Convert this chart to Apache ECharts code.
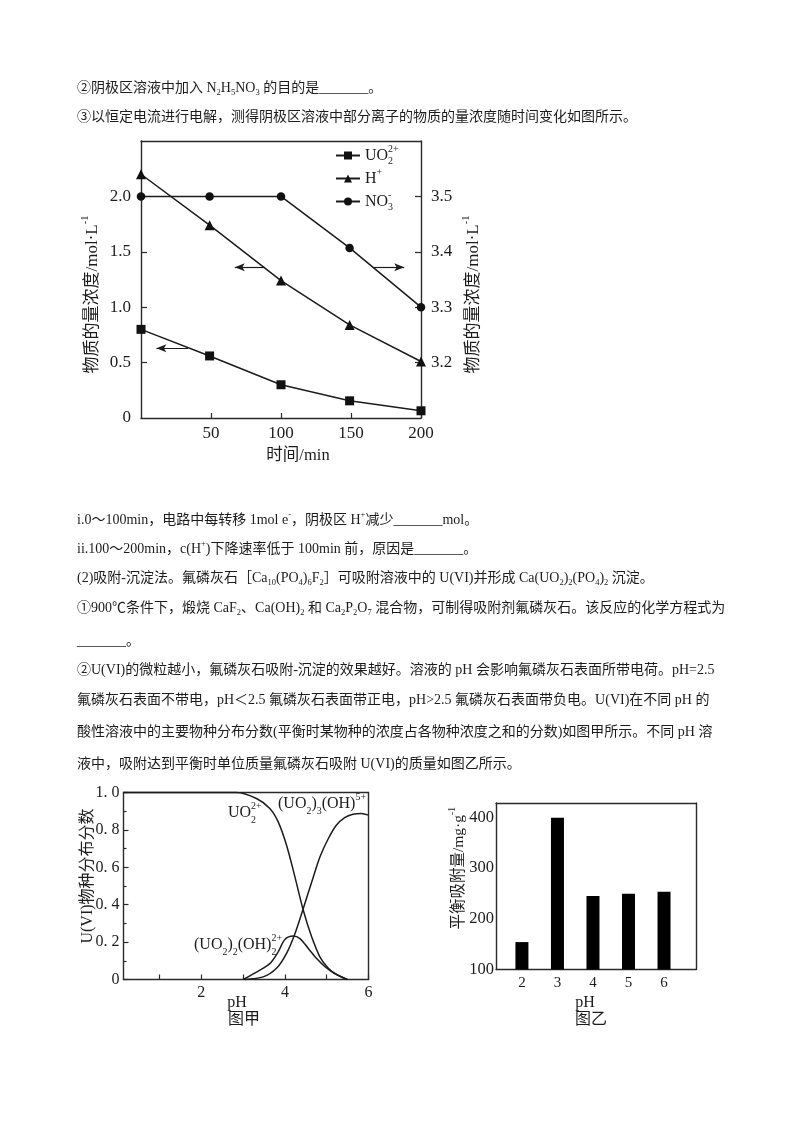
<!DOCTYPE html>
<html><head><meta charset="utf-8">
<style>html,body{margin:0;padding:0;background:#fff}#c{width:800px;height:1132px}</style>
<script src="https://cdn.jsdelivr.net/npm/echarts@6/dist/echarts.min.js"></script></head>
<body><div id="c"></div>
<script>
// ---------- data ----------
const timeMin = [0, 49, 100, 149, 200];
const uo2Conc = [0.80, 0.56, 0.30, 0.155, 0.065];
const hConc = [2.20, 1.74, 1.24, 0.84, 0.51];
const no3Conc = [3.50, 3.50, 3.50, 3.407, 3.30];
const leftTicks = [0, 0.5, 1.0, 1.5, 2.0];
const rightTicks = [3.2, 3.3, 3.4, 3.5];
const timeTicks = [50, 100, 150, 200];

const phUo2 = [0.14, 2.0, 2.84, 3.32, 3.64, 3.84, 4.04, 4.24, 4.44, 4.64, 4.84, 5.04, 5.23, 5.5];
const fracUo2 = [1, 1, 1, 0.968, 0.915, 0.843, 0.718, 0.549, 0.37, 0.228, 0.12, 0.06, 0.027, 0];
const phTrimer = [3.04, 3.48, 3.8, 4.04, 4.24, 4.44, 4.64, 4.84, 5.04, 5.23, 5.43, 5.63, 5.83, 6];
const fracTrimer = [0, 0.014, 0.06, 0.14, 0.245, 0.38, 0.52, 0.656, 0.754, 0.825, 0.866, 0.884, 0.888, 0.879];
const phDimer = [3.0, 3.32, 3.64, 3.84, 4.0, 4.2, 4.36, 4.56, 4.76, 4.96, 5.16, 5.48];
const fracDimer = [0, 0.04, 0.085, 0.148, 0.214, 0.232, 0.219, 0.166, 0.112, 0.068, 0.036, 0];

const barPh = [2, 3, 4, 5, 6];
const barAdsorb = [154, 399, 245, 249, 253];

const bodyLines = [
  ['②阴极区溶液中加入 N{s|2}H{s|5}NO{s|3} 的目的是_______。', 88],
  ['③以恒定电流进行电解，测得阴极区溶液中部分离子的物质的量浓度随时间变化如图所示。', 117],
  ['i.0～100min，电路中每转移 1mol e{u|-}，阴极区 H{u|+}减少_______mol。', 520],
  ['ii.100～200min，c(H{u|+})下降速率低于 100min 前，原因是_______。', 549],
  ['(2)吸附-沉淀法。氟磷灰石［Ca{s|10}(PO{s|4}){s|6}F{s|2}］可吸附溶液中的 U(VI)并形成 Ca(UO{s|2}){s|2}(PO{s|4}){s|2} 沉淀。', 578],
  ['①900℃条件下，煅烧 CaF{s|2}、Ca(OH){s|2} 和 Ca{s|2}P{s|2}O{s|7} 混合物，可制得吸附剂氟磷灰石。该反应的化学方程式为', 608],
  ['_______。', 641],
  ['②U(VI)的微粒越小，氟磷灰石吸附-沉淀的效果越好。溶液的 pH 会影响氟磷灰石表面所带电荷。pH=2.5', 670],
  ['氟磷灰石表面不带电，pH＜2.5 氟磷灰石表面带正电，pH>2.5 氟磷灰石表面带负电。U(VI)在不同 pH 的', 700],
  ['酸性溶液中的主要物种分布分数(平衡时某物种的浓度占各物种浓度之和的分数)如图甲所示。不同 pH 溶', 732],
  ['液中，吸附达到平衡时单位质量氟磷灰石吸附 U(VI)的质量如图乙所示。', 764]
];
const legendRich = {
  'UO2': '{b|UO}{up|2+}{dn|2}',
  'H': '{b|H}{up2|+}',
  'NO3': '{b|NO}{up|-}{dn|3}'
};
// ---------- style ----------
const FONT = '"Liberation Serif","Noto Sans CJK SC",serif';
const INK = '#1c1c1c';
const rich = (size, lh) => {
  const h = lh || size + 8;
  const small = size * 0.62;
  const sm = (v) => ({fontFamily: FONT, fontSize: small, color: INK, verticalAlign: v, lineHeight: small});
  return {
    b: {fontFamily: FONT, fontSize: size, color: INK, lineHeight: h},
    t: {fontFamily: FONT, fontSize: size, color: INK, lineHeight: h},
    up: Object.assign(sm('top'), {width: 0}),
    up2: sm('top'),
    dn: Object.assign(sm('bottom'), {padding: [0, size * 0.95, 0, 0]}),
    d: sm('bottom')
  };
};
const bodyRich = {
  s: {fontFamily: FONT, fontSize: 8.5, color: INK, verticalAlign: 'bottom', lineHeight: 10},
  u: {fontFamily: FONT, fontSize: 8.5, color: INK, verticalAlign: 'top', lineHeight: 10}
};
const zip = (a, b) => a.map((v, i) => [v, b[i]]);
const axisLine = {show: true, onZero: false, lineStyle: {color: '#2a2a2a', width: 1.4}};
const tickStyle = {color: '#2a2a2a', width: 1.2};
const lab = (size, extra) => Object.assign({fontFamily: FONT, fontSize: size, color: INK}, extra || {});
const lineSeries = (name, x, y, xi, yi, symbol, size, extra) => Object.assign({
  name, type: 'line', xAxisIndex: xi, yAxisIndex: yi, data: zip(x, y), symbol, symbolSize: size,
  clip: false, lineStyle: {color: '#1c1c1c', width: 1.5}, itemStyle: {color: '#111'}, animation: false
}, extra || {});
const arrow = (x1, x2, y) => [{coord: [x1, y]}, {coord: [x2, y]}];
const arrowLine = (pairs, symbols) => ({
  silent: true, symbol: symbols, symbolSize: [6, 10], label: {show: false},
  lineStyle: {color: '#1c1c1c', width: 1.2, type: 'solid'}, data: pairs, animation: false
});

const graphics = bodyLines.map(([s, y]) => ({
  type: 'text', left: 77, top: y - 9,
  style: {text: s, fontFamily: FONT, fontSize: 14, fill: INK, rich: bodyRich, lineHeight: 18}
}));
const tag = (text, x, y, size) => ({
  type: 'text', x, y,
  style: {text, fontFamily: FONT, fontSize: size, fill: INK, rich: rich(size), verticalAlign: 'middle', align: 'left'}
});
graphics.push(
  tag('{b|UO}{up|2+}{dn|2}', 228, 813, 16),
  tag('{b|(UO}{d|2}{b|)}{d|3}{b|(OH)}{up2|5+}', 278, 804, 16),
  tag('{b|(UO}{d|2}{b|)}{d|2}{b|(OH)}{up|2+}{dn|2}', 194, 945, 16),
  {type: 'text', x: 244, y: 1020, style: {text: '图甲', fontFamily: FONT, fontSize: 16, fill: INK, align: 'center', verticalAlign: 'middle'}},
  {type: 'text', x: 591, y: 1020, style: {text: '图乙', fontFamily: FONT, fontSize: 16, fill: INK, align: 'center', verticalAlign: 'middle'}}
);

const option = {
  backgroundColor: '#fff',
  animation: false,
  textStyle: {fontFamily: FONT},
  grid: [
    {left: 141, top: 141, width: 280, height: 277, show: false},
    {left: 123.5, top: 792.5, width: 245, height: 187, show: false},
    {left: 496, top: 803, width: 200, height: 166.5, show: false}
  ],
  legend: {
    left: 330, top: 139.5, orient: 'vertical', itemWidth: 24, itemHeight: 10, itemGap: 1,
    data: ['UO2', 'H', 'NO3'],
    formatter: (n) => legendRich[n],
    textStyle: {rich: rich(16, 22), fontFamily: FONT, fontSize: 16, color: INK, lineHeight: 22},
    selectedMode: false
  },
  xAxis: [
    {type: 'value', gridIndex: 0, min: 0, max: 200, position: 'bottom', splitLine: {show: false},
     axisLine, axisTick: {show: true, inside: true, length: 5, lineStyle: tickStyle, customValues: timeTicks},
     axisLabel: lab(17, {margin: 7, customValues: timeTicks}),
     name: '时间/min', nameLocation: 'middle', nameGap: 29, nameMoveOverlap: false, nameTextStyle: lab(16.5, {padding: [0, 0, 0, 34]})},
    {type: 'value', gridIndex: 0, min: 0, max: 200, position: 'top', show: true, axisLine, axisTick: {show: false}, axisLabel: {show: false}, splitLine: {show: false}},
    {type: 'value', gridIndex: 1, min: 0.14, max: 6, position: 'bottom', splitLine: {show: false},
     axisLine, axisTick: {show: true, inside: true, length: 5, lineStyle: tickStyle, customValues: [1, 2, 3, 4, 5, 6]},
     axisLabel: lab(16, {margin: 5, customValues: [2, 4, 6]}),
     name: 'pH', nameLocation: 'middle', nameGap: 15, nameMoveOverlap: false, nameTextStyle: lab(16, {padding: [0, 18, 0, 0]})},
    {type: 'value', gridIndex: 1, min: 0.14, max: 6, position: 'top', show: true, axisLine, axisTick: {show: false}, axisLabel: {show: false}, splitLine: {show: false}},
    {type: 'value', gridIndex: 2, min: 1.27, max: 6.9, position: 'bottom', splitLine: {show: false},
     axisLine, axisTick: {show: false},
     axisLabel: lab(15, {margin: 6, customValues: barPh}),
     name: 'pH', nameLocation: 'middle', nameGap: 25, nameMoveOverlap: false, nameTextStyle: lab(16, {padding: [0, 22, 0, 0]})},
    {type: 'value', gridIndex: 2, min: 1.27, max: 6.9, position: 'top', show: true, axisLine, axisTick: {show: false}, axisLabel: {show: false}, splitLine: {show: false}}
  ],
  yAxis: [
    {type: 'value', gridIndex: 0, min: 0, max: 2.5, position: 'left', splitLine: {show: false}, axisLine,
     axisTick: {show: true, inside: true, length: 6, lineStyle: tickStyle, customValues: leftTicks.slice(1)},
     axisLabel: lab(17, {margin: 10, customValues: leftTicks, formatter: (v) => v === 0 ? '0' : v.toFixed(1)}),
     name: '{t|物质的量浓度/mol·L}{up2|-1}', nameLocation: 'middle', nameRotate: 90, nameGap: 36, nameMoveOverlap: false,
     nameTextStyle: {rich: rich(17), padding: [0, 30, 0, 0]}},
    {type: 'value', gridIndex: 0, min: 3.1, max: 3.6, position: 'right', splitLine: {show: false}, axisLine,
     axisTick: {show: true, inside: true, length: 6, lineStyle: tickStyle, customValues: rightTicks},
     axisLabel: lab(17, {margin: 10, customValues: rightTicks, formatter: (v) => v.toFixed(1)}),
     name: '{t|物质的量浓度/mol·L}{up2|-1}', nameLocation: 'middle', nameRotate: 90, nameGap: 40, nameMoveOverlap: false,
     nameTextStyle: {rich: rich(17), padding: [0, 30, 0, 0]}},
    {type: 'value', gridIndex: 1, min: 0, max: 1, interval: 0.2, position: 'left', splitLine: {show: false}, axisLine,
     axisTick: {show: true, inside: true, length: 5, lineStyle: tickStyle},
     minorTick: {show: true, splitNumber: 2, length: 3, lineStyle: tickStyle},
     axisLabel: lab(16, {margin: 4, formatter: (v) => v === 0 ? '0' : v.toFixed(1).replace('.', '. ')}),
     name: 'U(VI)物种分布分数', nameLocation: 'middle', nameRotate: 90, nameGap: 28, nameMoveOverlap: false, nameTextStyle: lab(16, {padding: [0, 0, 0, 20]})},
    {type: 'value', gridIndex: 1, min: 0, max: 1, position: 'right', show: true, axisLine, axisTick: {show: false}, axisLabel: {show: false}, splitLine: {show: false}},
    {type: 'value', gridIndex: 2, min: 100, max: 428, interval: 100, position: 'left', splitLine: {show: false}, axisLine, axisTick: {show: false},
     axisLabel: lab(16.5, {margin: 2}),
     name: '{t|平衡吸附量/mg·g}{up2|-1}', nameLocation: 'middle', nameRotate: 90, nameGap: 25, nameMoveOverlap: false,
     nameTextStyle: {rich: rich(15.5), padding: [0, 0, 0, 36]}},
    {type: 'value', gridIndex: 2, min: 100, max: 428, position: 'right', show: true, axisLine, axisTick: {show: false}, axisLabel: {show: false}, splitLine: {show: false}}
  ],
  series: [
    lineSeries('UO2', timeMin, uo2Conc, 0, 0, 'rect', 9, {markLine: arrowLine([arrow(33.6, 11, 0.63)], ['none', 'arrow'])}),
    lineSeries('H', timeMin, hConc, 0, 0, 'triangle', 10, {markLine: arrowLine([arrow(88.6, 67, 1.36)], ['none', 'arrow'])}),
    lineSeries('NO3', timeMin, no3Conc, 0, 1, 'circle', 8.5, {markLine: arrowLine([arrow(166, 188, 3.372)], ['none', 'arrow'])}),
    lineSeries('UO2 fraction', phUo2, fracUo2, 2, 2, 'none', 0, {smooth: 0.3}),
    lineSeries('trimer fraction', phTrimer, fracTrimer, 2, 2, 'none', 0, {smooth: 0.3}),
    lineSeries('dimer fraction', phDimer, fracDimer, 2, 2, 'none', 0, {smooth: 0.3}),
    {name: 'adsorption', type: 'bar', xAxisIndex: 4, yAxisIndex: 4, data: zip(barPh, barAdsorb), barWidth: 13, itemStyle: {color: '#000'}, animation: false}
  ],
  graphic: graphics
};
const chart = echarts.init(document.getElementById('c'), null, {renderer: 'canvas'});
chart.setOption(option);
</script></body></html>
